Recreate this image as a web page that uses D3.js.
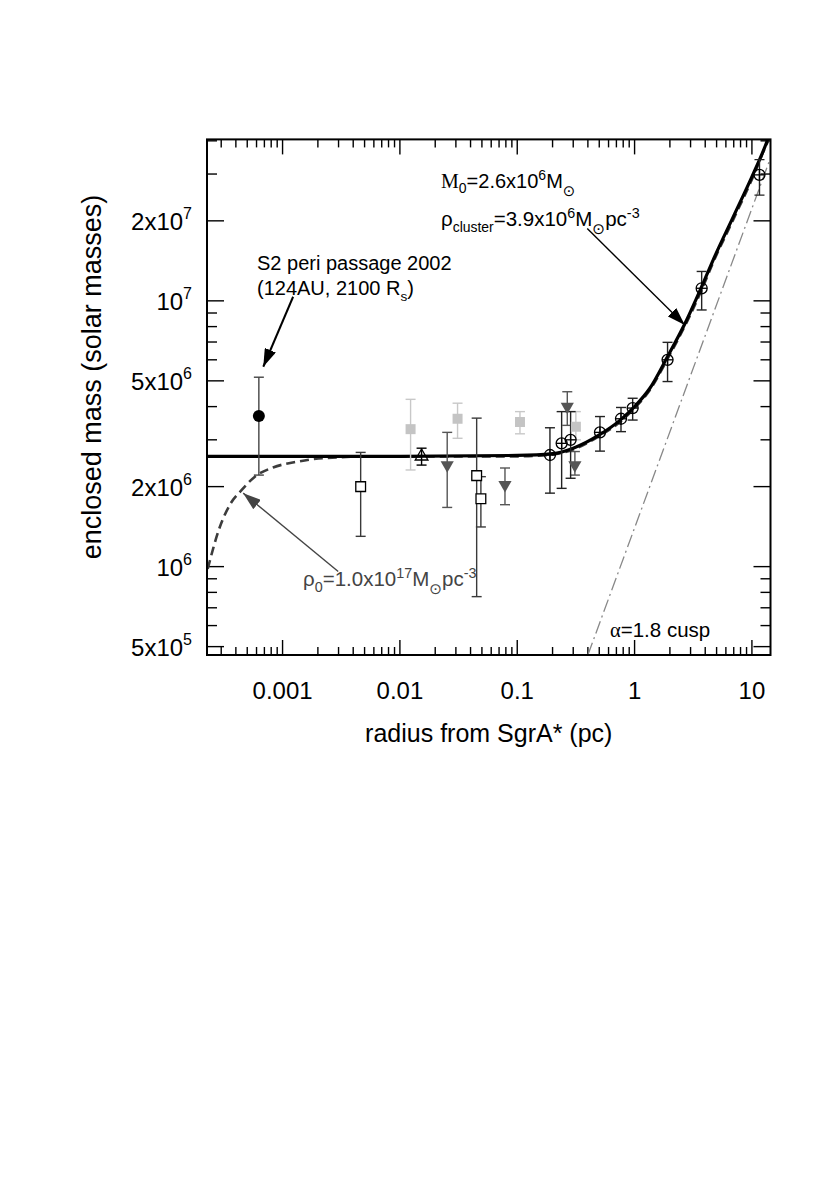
<!DOCTYPE html>
<html>
<head>
<meta charset="utf-8">
<script src="https://cdn.jsdelivr.net/npm/d3@7"></script>
<style>
body { margin: 0; background: #fff; }
text { font-family: "Liberation Sans", Arial, Helvetica, sans-serif; }
</style>
</head>
<body>
<svg id="chart" width="830" height="1191"></svg>
<script>
// axis extents and ticks
var xDomain = [2.27e-4, 14.4];
var yDomain = [4.65e5, 4.05e7];
var xMajor = [0.001, 0.01, 0.1, 1, 10];
var xLabels = ["0.001", "0.01", "0.1", "1", "10"];
var xMinorMant = [2, 3, 4, 5, 6, 7, 8, 9];
var xMinorExp = [-4, -3, -2, -1, 0, 1];
var yMajor = [5e5, 1e6, 2e6, 5e6, 1e7, 2e7];
var yMant = ["5x", "", "2x", "5x", "", "2x"];
var yExp = ["5", "6", "6", "6", "7", "7"];
var yMinor = [6e5, 7e5, 8e5, 9e5, 3e6, 4e6, 6e6, 7e6, 8e6, 9e6, 3e7, 4e7];

// open circles (stellar velocities)
var circR  = [0.19, 0.239, 0.285, 0.507, 0.766, 0.963, 1.91, 3.73, 11.6];
var circM  = [2.63e6, 2.91e6, 3.0e6, 3.2e6, 3.6e6, 3.95e6, 6.0e6, 1.115e7, 2.98e7];
var circLo = [1.89e6, 1.97e6, 2.15e6, 2.72e6, 3.22e6, 3.56e6, 4.97e6, 9.24e6, 2.5e7];
var circHi = [3.33e6, 3.83e6, 3.83e6, 3.67e6, 3.97e6, 4.3e6, 6.98e6, 1.29e7, 3.4e7];

// open squares
var sqR  = [4.63e-3, 0.0451, 0.049];
var sqM  = [2.0e6, 2.2e6, 1.8e6];
var sqLo = [1.30e6, 7.71e5, 1.41e6];
var sqHi = [2.69e6, 3.62e6, 2.18e6];

// light grey filled squares
var gsqR  = [0.01233, 0.031, 0.1055, 0.316];
var gsqM  = [3.29e6, 3.6e6, 3.5e6, 3.36e6];
var gsqLo = [2.31e6, 3.04e6, 3.16e6, 3.0e6];
var gsqHi = [4.26e6, 4.12e6, 3.83e6, 3.83e6];

// dark grey down triangles
var triR  = [0.0253, 0.0786, 0.267, 0.31];
var triM  = [2.41e6, 2.03e6, 4.0e6, 2.41e6];
var triLo = [1.67e6, 1.71e6, 3.4e6, 2.21e6];
var triHi = [3.2e6, 2.35e6, 4.55e6, 2.71e6];

// open up triangle
var upR = [0.0153], upM = [2.6e6], upLo = [2.41e6], upHi = [2.79e6];

// S2 peri passage
var s2R = [6.28e-4], s2M = [3.69e6], s2Lo = [2.21e6], s2Hi = [5.16e6];

// model curves
var fitR = [2.27e-4, 0.01, 0.1, 0.2, 0.3, 0.5, 0.75, 1.0, 1.35, 1.91, 2.78, 3.73, 4.69, 6.93, 10.3, 13.4, 14.0];
var fitM = [2.6e6, 2.6e6, 2.62e6, 2.66e6, 2.79e6, 3.13e6, 3.55e6, 4.0e6, 4.69e6, 6.17e6, 8.47e6, 1.13e7, 1.43e7, 2.07e7, 3.02e7, 3.97e7, 4.2e7];
var coreR = [2.3e-4, 2.92e-4, 3.56e-4, 4.47e-4, 5.81e-4, 8.3e-4, 1.32e-3, 2.22e-3, 6.7e-3, 0.1, 0.2, 0.3, 0.5, 0.75, 1.0, 1.35, 1.91, 2.78, 3.73, 4.69, 6.93, 10.3, 13.4, 14.4];
var coreM = [0.98e6, 1.41e6, 1.71e6, 1.94e6, 2.18e6, 2.36e6, 2.48e6, 2.56e6, 2.6e6, 2.6e6, 2.64e6, 2.76e6, 3.1e6, 3.5e6, 3.95e6, 4.62e6, 6.05e6, 8.3e6, 1.1e7, 1.4e7, 2.02e7, 2.95e7, 3.9e7, 4.15e7];
var cuspR = [0.4, 14.4];
var cuspM = [4.65e5, 3.45e7];

var svg = d3.select("#chart");
var pL = 207, pR = 770.5, pT = 139.4, pB = 655;

var x = d3.scaleLog().domain(xDomain).range([pL, pR]);
var y = d3.scaleLog().domain(yDomain).range([pB, pT]);

svg.append("rect").attr("width", 830).attr("height", 1191).attr("fill", "#fff");

var defs = svg.append("defs");
defs.append("clipPath").attr("id", "clip")
  .append("rect").attr("x", pL).attr("y", pT).attr("width", pR - pL).attr("height", pB - pT);

var xMinor = [];
xMinorExp.forEach(function(e) {
  xMinorMant.forEach(function(m) {
    var v = m * Math.pow(10, e);
    if (v > xDomain[0] && v < xDomain[1]) xMinor.push(v);
  });
});

// ticks on all four sides, pointing in
var ticks = svg.append("g").attr("stroke", "#000").attr("stroke-width", 1.4);
function xTicks(vals, len) {
  vals.forEach(function(v) {
    ticks.append("line").attr("x1", x(v)).attr("x2", x(v)).attr("y1", pB).attr("y2", pB - len);
    ticks.append("line").attr("x1", x(v)).attr("x2", x(v)).attr("y1", pT).attr("y2", pT + len);
  });
}
function yTicks(vals, len) {
  vals.forEach(function(v) {
    ticks.append("line").attr("y1", y(v)).attr("y2", y(v)).attr("x1", pL).attr("x2", pL + len);
    ticks.append("line").attr("y1", y(v)).attr("y2", y(v)).attr("x1", pR).attr("x2", pR - len);
  });
}
xTicks(xMajor, 15); xTicks(xMinor, 8);
yTicks(yMajor, 17); yTicks(yMinor, 10);

// tick labels
svg.append("g").selectAll("text").data(xMajor).enter().append("text")
  .attr("x", function(d) { return x(d); })
  .attr("y", 699)
  .attr("text-anchor", "middle")
  .attr("font-size", 24)
  .text(function(d, i) { return xLabels[i]; });

yMajor.forEach(function(v, i) {
  var t = svg.append("text").attr("x", 192).attr("y", y(v) + 9)
    .attr("text-anchor", "end").attr("font-size", 24);
  t.append("tspan").text(yMant[i] + "10");
  t.append("tspan").attr("dy", -11).attr("font-size", 16).text(yExp[i]);
});

// axis titles
svg.append("text").attr("x", (pL + pR) / 2).attr("y", 742)
  .attr("text-anchor", "middle").attr("font-size", 25)
  .text("radius from SgrA* (pc)");
svg.append("text").attr("transform", "translate(101," + 377 + ") rotate(-90)")
  .attr("text-anchor", "middle").attr("font-size", 27)
  .text("enclosed mass (solar masses)");

// curves
var plot = svg.append("g").attr("clip-path", "url(#clip)");
var line = d3.line().x(function(d) { return x(d[0]); }).y(function(d) { return y(d[1]); }).curve(d3.curveMonotoneX);

plot.append("path").datum(d3.zip(cuspR, cuspM)).attr("d", line)
  .attr("fill", "none").attr("stroke", "#888").attr("stroke-width", 1.3)
  .attr("stroke-dasharray", "13,4,2,4");
plot.append("path").datum(d3.zip(coreR, coreM)).attr("d", line)
  .attr("fill", "none").attr("stroke", "#3c3c3c").attr("stroke-width", 2.6)
  .attr("stroke-dasharray", "9,5");
plot.append("path").datum(d3.zip(fitR, fitM)).attr("d", line)
  .attr("fill", "none").attr("stroke", "#000").attr("stroke-width", 3.2);

// error bars
function errBars(rs, lo, hi, color) {
  var g = plot.append("g").attr("stroke", color).attr("stroke-width", 1.4).attr("fill", "none");
  rs.forEach(function(r, i) {
    g.append("line").attr("x1", x(r)).attr("x2", x(r)).attr("y1", y(lo[i])).attr("y2", y(hi[i]));
    g.append("line").attr("x1", x(r) - 5).attr("x2", x(r) + 5).attr("y1", y(lo[i])).attr("y2", y(lo[i]));
    g.append("line").attr("x1", x(r) - 5).attr("x2", x(r) + 5).attr("y1", y(hi[i])).attr("y2", y(hi[i]));
  });
}
errBars(gsqR, gsqLo, gsqHi, "#c8c8c8");
errBars(sqR, sqLo, sqHi, "#3a3a3a");
errBars(triR, triLo, triHi, "#555");
errBars(upR, upLo, upHi, "#000");
errBars(circR, circLo, circHi, "#222");
errBars(s2R, s2Lo, s2Hi, "#444");

function symbols(rs, ms, type, size, fill, stroke, rot) {
  plot.append("g").selectAll("path").data(rs).enter().append("path")
    .attr("d", d3.symbol().type(type).size(size))
    .attr("transform", function(d, i) { return "translate(" + x(d) + "," + y(ms[i]) + ") rotate(" + (rot || 0) + ")"; })
    .attr("fill", fill).attr("stroke", stroke).attr("stroke-width", 1.3);
}
symbols(gsqR, gsqM, d3.symbolSquare, 100, "#c4c4c4", "none");
symbols(sqR, sqM, d3.symbolSquare, 95, "#fff", "#000");
symbols(triR, triM, d3.symbolTriangle, 75, "#555", "none", 180);
symbols(upR, upM, d3.symbolTriangle, 70, "none", "#000");

// circles with cross
var circ = plot.append("g").selectAll("g").data(circR).enter().append("g")
  .attr("transform", function(d, i) { return "translate(" + x(d) + "," + y(circM[i]) + ")"; })
  .attr("stroke", "#000").attr("stroke-width", 1.3).attr("fill", "none");
circ.append("circle").attr("r", 5.5);
circ.append("line").attr("x1", -5.5).attr("x2", 5.5);
circ.append("line").attr("y1", -5.5).attr("y2", 5.5);

plot.append("g").selectAll("circle").data(s2R).enter().append("circle")
  .attr("cx", function(d) { return x(d); })
  .attr("cy", function(d, i) { return y(s2M[i]); })
  .attr("r", 6).attr("fill", "#000");

// frame
svg.append("rect").attr("x", pL).attr("y", pT).attr("width", pR - pL).attr("height", pB - pT)
  .attr("fill", "none").attr("stroke", "#000").attr("stroke-width", 2);

// annotations
["#000", "#444"].forEach(function(c, i) {
  defs.append("marker").attr("id", "arr" + i)
    .attr("viewBox", "0 0 18 12").attr("refX", 18).attr("refY", 6)
    .attr("markerWidth", 18).attr("markerHeight", 12)
    .attr("markerUnits", "userSpaceOnUse").attr("orient", "auto")
    .append("path").attr("d", "M0,0L18,6L0,12Z").attr("fill", c);
});
function arrow(from, to, k, color, w) {
  svg.append("line")
    .attr("x1", x(from[0])).attr("y1", y(from[1]))
    .attr("x2", x(to[0])).attr("y2", y(to[1]))
    .attr("stroke", color).attr("stroke-width", w)
    .attr("marker-end", "url(#arr" + k + ")");
}
arrow([1.23e-3, 1.036e7], [6.85e-4, 5.65e6], 0, "#000", 2);
arrow([0.395, 1.87e7], [2.68, 8.12e6], 0, "#000", 1.4);
arrow([2.98e-3, 9.58e5], [4.62e-4, 1.89e6], 1, "#444", 1.4);

function rich(px, py, size, parts, fill) {
  var t = svg.append("text").attr("x", px).attr("y", py).attr("font-size", size).attr("fill", fill || "#000");
  var cur = 0;
  parts.forEach(function(p) {
    var shift = p[1] || 0;
    var ts = t.append("tspan").attr("dy", shift - cur).text(p[0]);
    cur = shift;
    if (p[2]) ts.attr("font-size", size * p[2]);
    if (p[3]) ts.attr("font-family", p[3]);
  });
  return t;
}
var serif = "Liberation Serif, Times New Roman, serif";
var sym = "DejaVu Sans";
rich(441, 188, 20, [["M", 0, 0, serif], ["0", 5, 0.7], ["=2.6x10", 0], ["6", -8, 0.7], ["M", 0], ["\u2299", 8, 0.75, sym]]);
rich(441, 226, 20.5, [["\u03c1", 0], ["cluster", 6, 0.68], ["=3.9x10", 0], ["6", -8, 0.7], ["M", 0], ["\u2299", 8, 0.75, sym], ["pc", 0], ["-3", -8, 0.7]]);
rich(257, 270, 20, [["S2 peri passage 2002", 0]]);
rich(257, 295, 20, [["(124AU, 2100 R", 0], ["s", 6, 0.68], [")", 0]]);
rich(303, 586, 20.5, [["\u03c1", 0], ["0", 6, 0.7], ["=1.0x10", 0], ["17", -8, 0.7], ["M", 0], ["\u2299", 8, 0.75, sym], ["pc", 0], ["-3", -8, 0.7]], "#444");
rich(610, 637, 20.5, [["\u03b1", 0, 0, serif], ["=1.8 cusp", 0]]);
</script>
</body>
</html>
